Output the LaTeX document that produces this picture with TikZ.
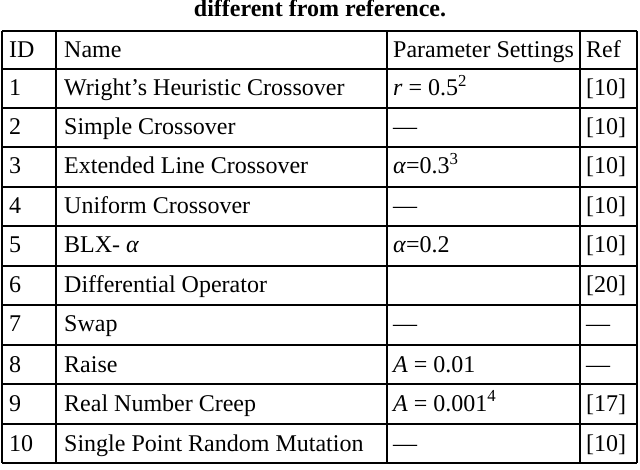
\documentclass[tikz,border=0pt]{standalone}
\usepackage{fontspec}
\setmainfont{Liberation Serif}
\begin{document}
\begin{tikzpicture}[x=1pt,y=-1pt,font=\fontsize{24}{26}\selectfont,
 cell/.style={anchor=base west,inner sep=0pt}]
\useasboundingbox (0,0) rectangle (640,470);
\node[font=\bfseries\fontsize{24}{26}\selectfont,anchor=base] (title) at (320,17) {different from reference.};
\def\ys{31,69,108,147,187,226,266,305,345,384,424,463}
\foreach \y in \ys {\draw[line width=1.3pt] (2,\y) -- (637,\y);}
\foreach \x in {2,56,387,580,637} {\draw[line width=1.3pt] (\x,31) -- (\x,463);}
\newcommand\rowtext[5]{%
 \node[cell] (id#1) at (9,#1+27) {#2};
 \node[cell] (nm#1) at (64,#1+27) {#3};
 \node[cell] (ps#1) at (393,#1+27) {#4};
 \node[cell] (rf#1) at (586,#1+27) {#5};}
\rowtext{31}{ID}{Name}{Parameter Settings}{Ref}
\rowtext{69}{1}{Wright’s Heuristic Crossover}{\textit{r} = 0.5\textsuperscript{2}}{[10]}
\rowtext{108}{2}{Simple Crossover}{—}{[10]}
\rowtext{147}{3}{Extended Line Crossover}{\textit{α}=0.3\textsuperscript{3}}{[10]}
\rowtext{187}{4}{Uniform Crossover}{—}{[10]}
\rowtext{226}{5}{BLX- \textit{α}}{\textit{α}=0.2}{[10]}
\rowtext{266}{6}{Differential Operator}{}{[20]}
\rowtext{305}{7}{Swap}{—}{—}
\rowtext{345}{8}{Raise}{\textit{A} = 0.01}{—}
\rowtext{384}{9}{Real Number Creep}{\textit{A} = 0.001\textsuperscript{4}}{[17]}
\rowtext{424}{10}{Single Point Random Mutation}{—}{[10]}
\end{tikzpicture}
\end{document}
